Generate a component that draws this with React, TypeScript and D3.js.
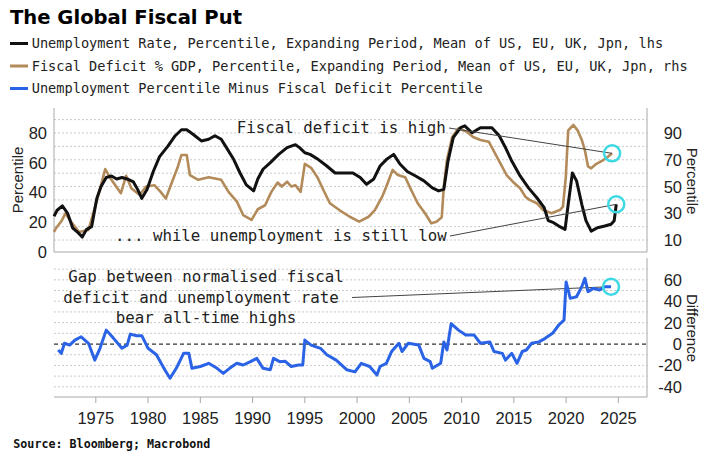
import React from "react";
import * as d3 from "d3";

// ---------- DATA ----------
const unempYears = [1971.0,1971.3,1971.8,1972.3,1972.8,1973.3,1973.7,1974.1,1974.6,1975.1,1975.5,1976.0,1976.5,1977.0,1977.5,1978.0,1978.6,1979.0,1979.4,1979.9,1980.5,1981.1,1981.9,1982.6,1983.2,1983.7,1984.3,1985.1,1985.8,1986.4,1987.0,1987.5,1988.2,1988.8,1989.4,1990.1,1990.5,1991.0,1991.7,1992.5,1993.3,1994.1,1994.5,1995.0,1995.5,1996.3,1997.1,1997.9,1998.7,1999.6,2000.3,2000.9,2001.6,2002.2,2002.8,2003.5,2004.1,2004.8,2005.6,2006.4,2007.2,2007.8,2008.3,2008.7,2009.2,2009.9,2010.3,2011.0,2011.8,2012.9,2013.6,2014.2,2014.8,2015.6,2016.4,2017.2,2017.9,2018.3,2018.8,2019.3,2019.9,2020.2,2020.6,2021.0,2021.5,2021.9,2022.4,2023.0,2023.7,2024.3,2024.6,2024.8];
const unempValues = [24,28,31,26,16,13,10,15,17,36,44,50,51,49,50,49,47,42,36,42,54,64,71,78,82,82,79,74.5,75.6,78,75.6,70,62,53,45,41,49,55.5,60,65.5,70,72,70,66.6,65.5,62,57.7,53,53,53,50,45.4,49,57.7,62,65.5,59,54,51,47.7,43,41,42,61,76.7,83.4,84.6,80,83.4,83.4,78,70,61,51,43,36.4,29.7,21,19.7,17.4,15.2,32,53,47.7,32,21,14,16.3,17.4,18.6,21,32];

const fiscalYears = [1971.0,1971.2,1971.7,1972.1,1972.6,1973.4,1974.3,1974.9,1975.5,1975.9,1976.5,1977.4,1977.9,1978.4,1979.2,1979.8,1980.6,1981.2,1981.7,1982.3,1982.8,1983.2,1983.7,1984.0,1984.8,1985.8,1987.0,1987.7,1988.5,1989.1,1989.9,1990.5,1991.2,1991.8,1992.4,1992.8,1993.3,1993.7,1994.1,1994.6,1995.0,1995.6,1996.2,1996.8,1997.4,1998.3,1999.3,2000.2,2001.1,2001.7,2002.4,2002.8,2003.4,2003.9,2004.6,2005.2,2005.8,2006.5,2007.1,2007.6,2008.1,2008.3,2008.6,2009.1,2009.7,2010.5,2011.1,2011.8,2012.6,2013.2,2013.8,2014.3,2014.9,2015.6,2016.1,2016.5,2017.2,2017.8,2018.6,2019.4,2019.7,2019.97,2020.2,2020.7,2021.1,2021.5,2021.8,2022.1,2022.4,2022.9,2023.6,2024.0,2024.4];
const fiscalValues = [16,19,24,30,24,16,17.5,34,51,63,55,45,58,48.7,43.7,50,51,46,41,53.6,63.6,73.6,73.6,58.6,55,57,55,46,38.7,28.7,25,33,36,46,53,50,53.6,50,51,46,67,64,57,47,37.5,32.4,27.4,23.7,27.4,32.4,42.4,50,62.4,58.6,57,47,37.5,30,22.5,23.7,27,50,70,87,93.5,91,87,84.8,83.5,74.8,66,58.6,53.6,48.7,42.4,40,37.5,32.4,30,32.4,35,57,92,96,92,84.8,77,65,63.6,67,70,72.3,74.8];

const gapYears = [1971.4,1971.7,1972.0,1972.5,1973.0,1973.6,1974.3,1974.9,1975.4,1976.0,1976.7,1977.5,1978.0,1978.3,1978.9,1979.4,1980.0,1980.8,1981.6,1982.1,1982.7,1983.4,1983.9,1984.2,1985.0,1985.8,1986.6,1987.2,1987.8,1988.5,1989.1,1989.8,1990.4,1991.0,1991.7,1992.0,1992.6,1993.1,1993.7,1994.4,1994.8,1995.0,1995.6,1996.5,1997.1,1998.0,1999.0,1999.8,2000.4,2001.2,2001.9,2002.2,2002.8,2003.3,2004.0,2004.3,2004.9,2005.9,2006.4,2007.0,2007.2,2008.0,2008.3,2008.6,2009.0,2009.7,2010.4,2011.2,2011.8,2012.7,2013.1,2013.9,2014.2,2014.8,2015.3,2015.8,2016.2,2016.7,2017.4,2018.0,2018.7,2019.3,2019.8,2020.0,2020.4,2021.0,2021.5,2021.8,2022.1,2022.6,2023.2,2023.7,2024.3];
const gapValues = [-5.6,-8.7,0.7,-1,3.7,6.8,0.7,-15,-4,13,5.3,-4,-1,9.3,7.8,7.8,-4,-10,-24,-32,-22.7,-8.7,-8.7,-22.7,-21,-18,-22.7,-27.4,-22.7,-18,-19.6,-16.5,-13.4,-22.7,-24,-13.4,-16.5,-16,-21,-19.6,-19.6,3.7,-1,-4,-10,-15,-24,-26,-18,-21,-29,-21,-18,-7,0.7,-7,0.7,-1,-13.4,-16.5,-22.7,-18,2,-5.6,19,13,8.4,8.4,0.7,2,-7,-8.7,-15,-8.7,-18,-7,-5.6,0.7,2,5.3,10,17.8,22.4,58,42.7,44.2,53.6,61.4,49,52,50.5,53.6,53.6];

const xTicks = [1975,1980,1985,1990,1995,2000,2005,2010,2015,2020,2025];
const leftTicks = [0,20,40,60,80];
const rightTicks = [10,30,50,70,90];
const rightGrid = [10,20,30,40,50,60,70,80,90,100];
const diffTicks = [-40,-20,0,20,40,60];
const diffGrid = [-40,-30,-20,-10,10,20,30,40,50,60,70];

const legendItems = [
  { label: "Unemployment Rate, Percentile, Expanding Period, Mean of US, EU, UK, Jpn, lhs", color: "#111111" },
  { label: "Fiscal Deficit % GDP, Percentile, Expanding Period, Mean of US, EU, UK, Jpn, rhs", color: "#b38b5a" },
  { label: "Unemployment Percentile Minus Fiscal Deficit Percentile", color: "#2a63e6" },
];

// ---------- LAYOUT ----------
const W = 715, H = 457;
const X0 = 54, X1 = 647;
const TOP0 = 108, TOP1 = 252;
const BOT0 = 258, BOT1 = 397;
const MONO = "'DejaVu Sans Mono', monospace";
const SANS = "'Liberation Sans', Arial, sans-serif";

export default function App() {
  const x = d3.scaleLinear().domain([1971.0, 2027.74]).range([X0, X1]);
  const yL = d3.scaleLinear().domain([0, 96.6]).range([TOP1, TOP0]);
  const yR = d3.scaleLinear().domain([1.05, 108.7]).range([TOP1, TOP0]);
  const yD = d3.scaleLinear().domain([-49.5, 80.4]).range([BOT1, BOT0]);

  const mk = (xs: number[], vs: number[], ys: d3.ScaleLinear<number, number>) =>
    d3.line<number>().x((_, i) => x(xs[i])).y((v) => ys(v))(vs) || "";

  const unempPath = mk(unempYears, unempValues, yL);
  const fiscalPath = mk(fiscalYears, fiscalValues, yR);
  const gapPath = mk(gapYears, gapValues, yD);

  const lastU = [x(unempYears[unempYears.length - 1]), yL(unempValues[unempValues.length - 1])];
  const lastF = [x(fiscalYears[fiscalYears.length - 1]), yR(fiscalValues[fiscalValues.length - 1])];
  const lastG = [x(gapYears[gapYears.length - 1]), yD(gapValues[gapValues.length - 1])];

  const axisCol = "#a8a8a8";
  const gridCol = "#c9c9c9";
  const txt = "#222";

  return (
    <svg width={W} height={H} viewBox={`0 0 ${W} ${H}`}
      style={{ position: "absolute", left: 0, top: 0, background: "#fff" }}>
      <rect x={0} y={0} width={W} height={H} fill="#fff" />
      {/* Title */}
      <text x={10} y={24} fontFamily="'DejaVu Sans', sans-serif" fontWeight="bold" fontSize={19}
        textLength={232} lengthAdjust="spacingAndGlyphs" fill="#000">The Global Fiscal Put</text>
      {/* Legend */}
      {legendItems.map((d, i) => (
        <g key={i}>
          <line x1={10} x2={28} y1={43.5 + i * 22.5} y2={43.5 + i * 22.5} stroke={d.color} strokeWidth={3} />
          <text x={31.7} y={48 + i * 22.5} fontFamily={MONO} fontSize={13.6} fill={txt}
            textLength={d.label.length * 8.2} lengthAdjust="spacingAndGlyphs">{d.label}</text>
        </g>
      ))}

      {/* Top panel grid */}
      {rightGrid.map((v) => (
        <line key={"g" + v} x1={X0} x2={X1} y1={yR(v)} y2={yR(v)} stroke={gridCol} strokeWidth={1} strokeDasharray="2,2" />
      ))}
      <line x1={X0} x2={X0} y1={TOP0} y2={TOP1} stroke={axisCol} />
      <line x1={X1} x2={X1} y1={TOP0} y2={TOP1} stroke={axisCol} />
      <line x1={X0} x2={X1} y1={TOP1} y2={TOP1} stroke={axisCol} />

      {leftTicks.map((v) => (
        <text key={"l" + v} x={47} y={yL(v) + 6} textAnchor="end" fontFamily={SANS} fontSize={16.5} fill={txt}>{v}</text>
      ))}
      {rightTicks.map((v) => (
        <text key={"r" + v} x={682} y={yR(v) + 6} textAnchor="end" fontFamily={SANS} fontSize={16.5} fill={txt}>{v}</text>
      ))}
      <text transform={`translate(23,180) rotate(-90)`} textAnchor="middle" fontFamily={SANS} fontSize={15} fill={txt}>Percentile</text>
      <text transform={`translate(687,181) rotate(90)`} textAnchor="middle" fontFamily={SANS} fontSize={15} fill={txt}>Percentile</text>

      {/* Top panel lines */}
      <path d={fiscalPath} fill="none" stroke="#b38b5a" strokeWidth={2.6} strokeLinejoin="round" />
      <path d={unempPath} fill="none" stroke="#111" strokeWidth={3} strokeLinejoin="round" />

      {/* Annotations top */}
      <text x={236.7} y={133} fontFamily={MONO} fontSize={15.8} fill="#222"
        textLength={22 * 9.5} lengthAdjust="spacingAndGlyphs">Fiscal deficit is high</text>
      <line x1={449} y1={128} x2={lastF[0]} y2={lastF[1]} stroke="#444" strokeWidth={1} />
      <text x={115} y={240.5} fontFamily={MONO} fontSize={15.8} fill="#222"
        textLength={35 * 9.48} lengthAdjust="spacingAndGlyphs">... while unemployment is still low</text>
      <line x1={450} y1={236} x2={lastU[0]} y2={lastU[1]} stroke="#444" strokeWidth={1} />
      <circle cx={lastF[0]} cy={lastF[1]} r={8} fill="none" stroke="#3fd9e3" strokeWidth={2.5} />
      <circle cx={lastU[0]} cy={lastU[1]} r={8} fill="none" stroke="#3fd9e3" strokeWidth={2.5} />

      {/* Bottom panel grid */}
      {diffGrid.map((v) => (
        <line key={"d" + v} x1={X0} x2={X1} y1={yD(v)} y2={yD(v)} stroke={gridCol} strokeWidth={1} strokeDasharray="2,2" />
      ))}
      <line x1={X0} x2={X1} y1={yD(0)} y2={yD(0)} stroke="#333" strokeWidth={1.2} strokeDasharray="4,3" />
      <line x1={X1} x2={X1} y1={BOT0} y2={BOT1} stroke={axisCol} />
      <line x1={X0} x2={X1} y1={BOT1} y2={BOT1} stroke={axisCol} />
      {xTicks.map((t) => (
        <g key={"x" + t}>
          <line x1={x(t)} x2={x(t)} y1={BOT1} y2={BOT1 + 6} stroke={axisCol} />
          <text x={x(t)} y={423.5} textAnchor="middle" fontFamily={SANS} fontSize={16.5} fill={txt}>{t}</text>
        </g>
      ))}
      {diffTicks.map((v) => (
        <text key={"dt" + v} x={682} y={yD(v) + 6} textAnchor="end" fontFamily={SANS} fontSize={16.5} fill={txt}>{v}</text>
      ))}
      <text transform={`translate(687,328) rotate(90)`} textAnchor="middle" fontFamily={SANS} fontSize={15} fill={txt}>Difference</text>

      {/* Bottom annotation */}
      {["Gap between normalised fiscal", "deficit and unemployment rate", "bear all-time highs"].map((s, i) => (
        <text key={"a" + i} x={i === 1 ? 63.3 : 206} y={282.3 + i * 20.2} textAnchor={i === 1 ? "start" : "middle"}
          fontFamily={MONO} fontSize={15.8} fill="#222"
          textLength={s.length * 9.5} lengthAdjust="spacingAndGlyphs">{s}</text>
      ))}
      <line x1={352} y1={297.5} x2={lastG[0]} y2={lastG[1]} stroke="#444" strokeWidth={1} />

      <path d={gapPath} fill="none" stroke="#2a63e6" strokeWidth={3} strokeLinejoin="round" />
      <circle cx={lastG[0]} cy={lastG[1]} r={8} fill="none" stroke="#3fd9e3" strokeWidth={2.5} />

      {/* Source */}
      <text x={13.3} y={448.3} fontFamily={MONO} fontWeight="bold" fontSize={12.5} fill="#111"
        textLength={197} lengthAdjust="spacingAndGlyphs">Source: Bloomberg; Macrobond</text>
    </svg>
  );
}
